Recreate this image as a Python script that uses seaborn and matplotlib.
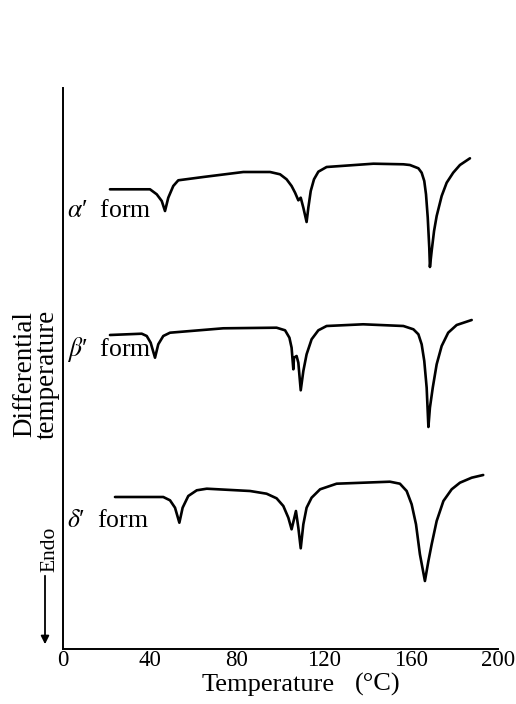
import numpy as np
import pandas as pd
import matplotlib
matplotlib.use("Agg")
import matplotlib.pyplot as plt
import seaborn as sns

# DTA curves: temperature (deg C) and signal height (arbitrary, px above axis)
alpha_T = [21.6, 40, 43.1, 45.4, 46.9, 48.4, 50.7, 53, 64.5, 82.9, 95.2, 99.8, 102.8, 105.1,
           106.7, 108.2, 109.3, 110.5, 112, 112.8, 113.9, 115.4, 117.4, 121.2, 142.7, 156.5,
           159.5, 163.4, 164.9, 166.1, 166.9, 167.7, 168.4, 168.7, 169.5, 170.6, 171.8, 174.1,
           176.4, 179.4, 182.5, 187.1]
alpha_h = [459.7, 459.7, 454.7, 448, 438, 451.3, 463, 468.7, 472, 477, 477, 474.7, 469.7, 463,
           456.3, 448.7, 451.3, 441.3, 427, 441.3, 458, 469.7, 477.3, 482, 485.3, 484.7,
           484, 480.7, 476.3, 468, 454.7, 431.3, 401.3, 382, 398, 418, 433, 453,
           466.3, 476.3, 484, 490.7]

beta_T = [21.6, 36.2, 38.5, 40.3, 42.3, 43.8, 46.1, 49.2, 73.7, 98.2, 102.1, 104.1, 105.1, 105.9,
          106.2, 107.4, 108.2, 109.3, 110.5, 112, 114.3, 117.4, 121.2, 138, 156.5, 161.1, 163.4,
          164.9, 166.1, 167.2, 168, 168.7, 170, 171.8, 174.1, 177.1, 181, 187.9]
beta_h = [314, 315.3, 313, 306.3, 291.3, 304.7, 313, 316.3, 320.7, 321.3, 318.7, 311.3, 301.3, 279.7,
          291.3, 293, 286.3, 258.7, 278, 294.7, 309.7, 318.7, 323, 324.7, 323, 319.7, 314.7,
          304.7, 288, 261.3, 222, 241.3, 261.3, 284.7, 303, 316.3, 324, 329]

delta_T = [23.9, 46.1, 49.2, 51.5, 53.5, 55, 57.6, 61.5, 66.1, 86, 93.6, 98.2, 101.3, 103.6, 105.1,
           106.2, 107.1, 108.2, 109.3, 110.5, 112, 114.3, 118.2, 125.8, 150.3, 154.9, 158, 160.3,
           162.3, 164.1, 166.4, 168, 169.5, 171.8, 174.9, 178.7, 182.5, 187.9, 193.2]
delta_h = [152, 152, 148.7, 141.3, 126.3, 141.3, 153, 158.7, 160.3, 158, 155.3, 150.7, 143, 131.3, 119.7,
           129.7, 138, 121.3, 100.7, 124.7, 141.3, 151.3, 159.7, 165.3, 167.3, 165.3, 158, 144.7,
           124.7, 94.7, 68, 88, 104.7, 128, 148, 159.7, 166.3, 171.3, 174]

greek = [r"$\alpha$", r"$\beta$", r"$\delta$"]
label_h = [432, 293, 122]
xticks = [0, 40, 80, 120, 160, 200]

df = pd.concat([
    pd.DataFrame({"T": alpha_T, "h": alpha_h, "form": "alpha"}),
    pd.DataFrame({"T": beta_T, "h": beta_h, "form": "beta"}),
    pd.DataFrame({"T": delta_T, "h": delta_h, "form": "delta"}),
])

sns.set_theme(style="white")
plt.rcParams["font.family"] = ["Liberation Serif", "DejaVu Serif"]
plt.rcParams["mathtext.fontset"] = "stix"
plt.rcParams["text.color"] = "black"
plt.rcParams["axes.labelcolor"] = "black"
plt.rcParams["xtick.color"] = "black"

fig = plt.figure(figsize=(5.16, 7.04), dpi=100)
ax = fig.add_axes([63 / 516, 55 / 704, 435 / 516, 561 / 704])

sns.lineplot(data=df, x="T", y="h", units="form", estimator=None, sort=False,
             color="black", linewidth=1.9, ax=ax)

ax.set_xlim(0, 200)
ax.set_ylim(0, 561)
ax.set_xticks(xticks)
ax.set_xticklabels([str(t) for t in xticks], fontsize=16.5)
ax.set_yticks([])
ax.tick_params(axis="x", direction="in", length=8, width=1.2, pad=1)
ax.set_xlabel("")
ax.set_ylabel("")
for s in ["top", "right"]:
    ax.spines[s].set_visible(False)
for s in ["left", "bottom"]:
    ax.spines[s].set_color("black")
    ax.spines[s].set_linewidth(1.4)

for g, h in zip(greek, label_h):
    ax.text(1.8, h, g + "′  form", fontsize=18.5, va="baseline", ha="left")

# x label split in two so the wide gap of the original is kept
fig.text(268 / 516, 1 - 691 / 704, "Temperature", fontsize=19,
         ha="center", va="baseline")
fig.text(378 / 516, 1 - 691 / 704, "(°C)", fontsize=19,
         ha="center", va="baseline")
fig.text(36 / 516, 1 - 374 / 704, "Differential\ntemperature", rotation=90,
         fontsize=19.5, ha="center", va="center", multialignment="center",
         linespacing=0.85)
fig.text(54 / 516, 1 - 549 / 704, "Endo", rotation=90, rotation_mode="anchor",
         fontsize=15.5, ha="center", va="baseline")
ax.annotate("", xy=(45 / 516, 1 - 647 / 704), xytext=(45 / 516, 1 - 573 / 704),
            xycoords="figure fraction", textcoords="figure fraction",
            arrowprops=dict(arrowstyle="-|>", color="black", lw=1.3, mutation_scale=12))

fig.savefig("out.png", dpi=100, facecolor="white")
